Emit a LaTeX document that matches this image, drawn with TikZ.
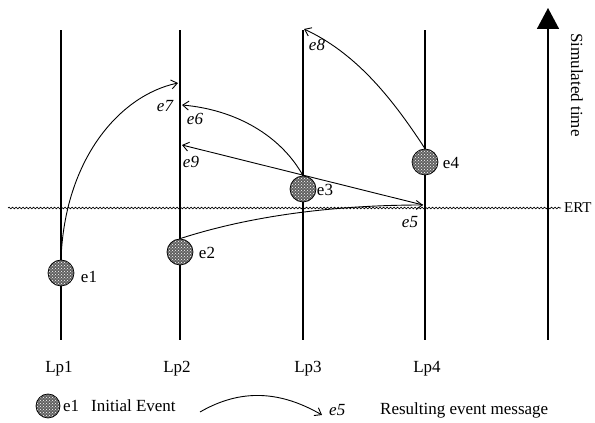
\documentclass[tikz,border=0pt]{standalone}
\usepackage{fontspec}
\setmainfont{Liberation Serif}
\usetikzlibrary{positioning}
\usetikzlibrary{arrows.meta}
\usetikzlibrary{decorations.pathmorphing}
\usetikzlibrary{patterns}

\tikzset{
	lifeline/.style={line width=1.6pt},
	event/.style={circle, draw, line width=0.7pt, minimum size=26pt, inner sep=0pt,
		preaction={fill=black!62}, pattern=crosshatch dots, pattern color=white},
	msg/.style={line width=0.9pt, -{Straight Barb[length=6pt,width=9pt]}},
	ert/.style={line width=0.7pt, decorate, decoration={snake, amplitude=0.8pt, segment length=3.5pt}},
	elabel/.style={font=\fontsize{17}{20}\selectfont\itshape, inner sep=0pt},
}

\begin{document}
\begin{tikzpicture}[x=1pt,y=1pt,font=\fontsize{17}{20}\selectfont]
	\useasboundingbox (0,0) rectangle (595,423);
	
	% logical processes
	\foreach \n/\x/\lx in {1/61/59, 2/180/177, 3/303/308, 4/425/427}{
		\coordinate (top\n) at (\x,393);
		\coordinate (bot\n) at (\x,83);
		\draw[lifeline] (bot\n) -- (top\n);
		\node[anchor=base] (lp\n) at (\lx,50) {Lp\n};
	}
	
	% simulated time axis
	\coordinate (tbot) at (548,83);
	\coordinate (ttop) at (548,415);
	\draw[lifeline, -{Triangle[width=22pt,length=21pt]}] (tbot) -- (ttop);
	\node[rotate=-90, inner sep=0pt] (simtime) at (577,338) {Simulated time};
	
	% earliest real time
	\coordinate (ertL) at (8,215);
	\coordinate (ertR) at (561,215);
	\draw[ert] (ertL) -- (ertR);
	\node[right=3pt of ertR, inner sep=0pt, font=\fontsize{15}{18}\selectfont] (ertlab) {ERT};
	
	% initial events
	\node[event] (e1) at (61,150) {};
	\node[event] (e2) at (180,171) {};
	\node[event] (e3) at (303,234) {};
	\node[event] (e4) at (425,261) {};
	\node[inner sep=0pt] (e1lab) at (89,146) {e1};
	\node[inner sep=0pt] (e2lab) at (207,170) {e2};
	\node[inner sep=0pt] (e3lab) at (325,233) {e3};
	\node[inner sep=0pt] (e4lab) at (451,260) {e4};
	
	% resulting messages
	\coordinate (e7) at (178,340);
	\coordinate (e6) at (182,318);
	\coordinate (e9) at (182,278);
	\coordinate (e5) at (423,218);
	\coordinate (e8) at (304,394);
	\draw[msg] (e1.north) .. controls +(88:100) and +(192:60) .. (e7);
	\draw[msg] (e3.north) .. controls +(119:45) and +(-5:55) .. (e6);
	\draw[msg] (e5) -- (e9);
	\draw[msg] (e2.north) .. controls +(18:80) and +(180:80) .. (e5);
	\draw[msg] (e4.north) .. controls +(123:65) and +(-25:55) .. (e8);
	\node[elabel] (e7lab) at (165,317) {e7};
	\node[elabel] (e6lab) at (195,304) {e6};
	\node[elabel] (e9lab) at (191,261) {e9};
	\node[elabel] (e5lab) at (410,201) {e5};
	\node[elabel] (e8lab) at (317,378) {e8};
	
	% legend
	\node[event, minimum size=24pt] (lgev) at (48,17) {};
	\node[anchor=base west, inner sep=0pt] (lgid) at (63,11) {e1};
	\node[anchor=base west, inner sep=0pt] (lgtext) at (91,11) {Initial Event};
	\coordinate (lgfrom) at (200,11);
	\coordinate (lgto) at (322,8);
	\draw[msg] (lgfrom) to[out=30,in=150] (lgto);
	\node[elabel, anchor=base west] (lgmsg) at (329,7) {e5};
	\node[anchor=base west, inner sep=0pt] (lgmsgtext) at (380,8) {Resulting event message};
\end{tikzpicture}
\end{document}
